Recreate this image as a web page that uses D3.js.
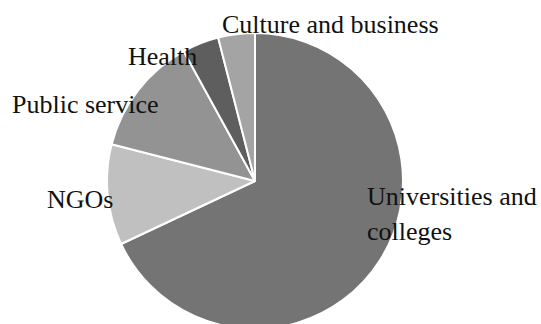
<!DOCTYPE html>
<html>
<head>
<meta charset="utf-8">
<script src="https://cdn.jsdelivr.net/npm/d3@7"></script>
<style>
  body { margin: 0; background: #fff; }
  text { font-family: "Liberation Serif", "DejaVu Serif", serif; font-size: 26px; fill: #111; }
</style>
</head>
<body>
<div id="chart"></div>
<script>
// Sectors, clockwise from 12 o'clock
var categories = ["Universities and colleges", "NGOs", "Public service", "Health", "Culture and business"];
var shares = [68, 11, 13, 4, 4];
var colours = ["#747474", "#c0c0c0", "#939393", "#5e5e5e", "#a4a4a4"];

var svg_Width = 541;
var svg_Height = 324;
var cx = 255, cy = 181, radius = 148;

// label placement (left x / first baseline, relative to pie centre), one line per entry
var label_Layout = [
  { dx: 112, dy: 24, lines: ["Universities and", "colleges"] },
  { dx: -208, dy: 27, lines: ["NGOs"] },
  { dx: -243, dy: -68, lines: ["Public service"] },
  { dx: -127, dy: -116, lines: ["Health"] },
  { dx: -33, dy: -148, lines: ["Culture and business"] }
];

var svg = d3.select("#chart")
  .append("svg")
  .attr("width", svg_Width)
  .attr("height", svg_Height);

var pie_Group = svg.append("g")
  .attr("transform", `translate(${cx}, ${cy})`);

var pie = d3.pie().sort(null).value(d => d);
var arc = d3.arc().innerRadius(0).outerRadius(radius);
var colour_Scale = d3.scaleOrdinal().domain(categories).range(colours);

var arcs = pie(shares);

pie_Group.selectAll("path")
  .data(arcs)
  .enter()
  .append("path")
  .attr("d", arc)
  .attr("fill", (d, i) => colour_Scale(categories[i]))
  .attr("stroke", "#fff")
  .attr("stroke-width", 2)
  .attr("stroke-linejoin", "round");

// Labels
var labels = pie_Group.selectAll(".label")
  .data(label_Layout)
  .enter()
  .append("text")
  .attr("class", "label")
  .attr("x", d => d.dx)
  .attr("y", d => d.dy);

labels.selectAll("tspan")
  .data(d => d.lines.map(l => ({ text: l, x: d.dx })))
  .enter()
  .append("tspan")
  .attr("x", d => d.x)
  .attr("dy", (d, i) => i === 0 ? 0 : 35)
  .text(d => d.text);
</script>
</body>
</html>
